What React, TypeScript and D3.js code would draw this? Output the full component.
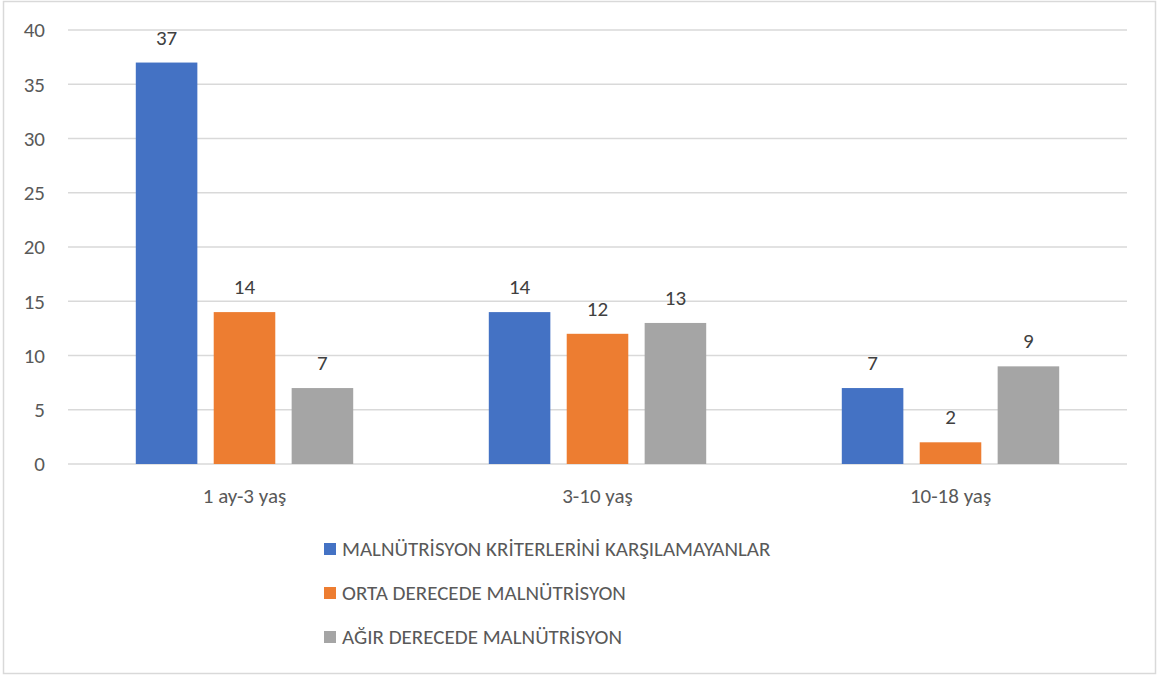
import * as d3 from 'd3';
import React, { useEffect, useRef } from 'react';

// age groups on the x axis
const categories = ['1 ay-3 yaş', '3-10 yaş', '10-18 yaş'];
const seriesNames = [
    'MALNÜTRİSYON KRİTERLERİNİ KARŞILAMAYANLAR',
    'ORTA DERECEDE MALNÜTRİSYON',
    'AĞIR DERECEDE MALNÜTRİSYON',
];
const notMeeting = [37, 14, 7];
const moderate = [14, 12, 2];
const severe = [7, 13, 9];
const seriesColors = ['#4472C4', '#ED7D31', '#A5A5A5'];
const yTicks = [0, 5, 10, 15, 20, 25, 30, 35, 40];

const App = () => {
    const ref = useRef<SVGSVGElement>(null);

    useEffect(() => {
        const width = 1157, height = 677;
        const plot = { left: 68, right: 1127, top: 30, bottom: 464 };
        const font = 'Carlito, Calibri, "Open Sans", sans-serif';
        const textColor = '#595959';
        const fontSize = '21px';

        const svg = d3.select(ref.current);
        svg.selectAll('*').remove();

        svg.append('rect')
            .attr('width', width)
            .attr('height', height)
            .attr('fill', '#fff');

        // chart border
        svg.append('rect')
            .attr('x', 3.5)
            .attr('y', 1.5)
            .attr('width', 1152)
            .attr('height', 672)
            .attr('fill', 'none')
            .attr('stroke', '#d9d9d9')
            .attr('stroke-width', 1.5);

        const y = d3.scaleLinear().domain([0, 40]).range([plot.bottom, plot.top]);
        const x0 = d3.scaleBand().domain(categories).range([plot.left, plot.right]);
        const x1 = d3.scaleBand()
            .domain(seriesNames)
            .range([0, x0.bandwidth()])
            .paddingInner(0.21)
            .paddingOuter(0.87);

        // gridlines
        svg.append('g')
            .selectAll('line')
            .data(yTicks)
            .join('line')
            .attr('x1', plot.left)
            .attr('x2', plot.right)
            .attr('y1', (d) => y(d))
            .attr('y2', (d) => y(d))
            .attr('stroke', '#d9d9d9')
            .attr('stroke-width', 1.5);

        // y tick labels
        svg.append('g')
            .selectAll('text')
            .data(yTicks)
            .join('text')
            .attr('x', 45)
            .attr('y', (d) => y(d))
            .attr('dy', '0.35em')
            .attr('text-anchor', 'end')
            .attr('fill', textColor)
            .style('font-family', font)
            .style('font-size', fontSize)
            .text((d) => d);

        const allSeries = [notMeeting, moderate, severe];
        const rows = categories.flatMap((c, i) =>
            seriesNames.map((s, j) => ({ cat: c, name: s, value: allSeries[j][i], color: seriesColors[j] })));

        const bars = svg.append('g');
        bars.selectAll('rect')
            .data(rows)
            .join('rect')
            .attr('x', (d) => x0(d.cat) + x1(d.name))
            .attr('y', (d) => y(d.value))
            .attr('width', x1.bandwidth())
            .attr('height', (d) => y(0) - y(d.value))
            .attr('fill', (d) => d.color);

        // value labels above bars
        bars.selectAll('text')
            .data(rows)
            .join('text')
            .attr('x', (d) => x0(d.cat) + x1(d.name) + x1.bandwidth() / 2)
            .attr('y', (d) => y(d.value) - 18)
            .attr('text-anchor', 'middle')
            .attr('fill', '#404040')
            .style('font-family', font)
            .style('font-size', fontSize)
            .text((d) => d.value);

        // category labels
        svg.append('g')
            .selectAll('text')
            .data(categories)
            .join('text')
            .attr('x', (d) => x0(d) + x0.bandwidth() / 2)
            .attr('y', 503)
            .attr('text-anchor', 'middle')
            .attr('fill', textColor)
            .style('font-family', font)
            .style('font-size', fontSize)
            .text((d) => d);

        // legend, stacked vertically
        const legend = svg.append('g')
            .selectAll('g')
            .data(seriesNames)
            .join('g')
            .attr('transform', (d, i) => `translate(324,${549 + i * 44})`);
        legend.append('rect')
            .attr('x', 0)
            .attr('y', -6)
            .attr('width', 12)
            .attr('height', 12)
            .attr('fill', (d, i) => seriesColors[i]);
        legend.append('text')
            .attr('x', 18)
            .attr('y', 0)
            .attr('dy', '0.35em')
            .attr('fill', textColor)
            .style('font-family', font)
            .style('font-size', fontSize)
            .text((d) => d);
    }, []);

    return (
        <div style={{ position: 'absolute', left: 0, top: 0 }}>
            <svg ref={ref} width={1157} height={677} style={{ display: 'block' }} />
        </div>
    );
};

export default App;
